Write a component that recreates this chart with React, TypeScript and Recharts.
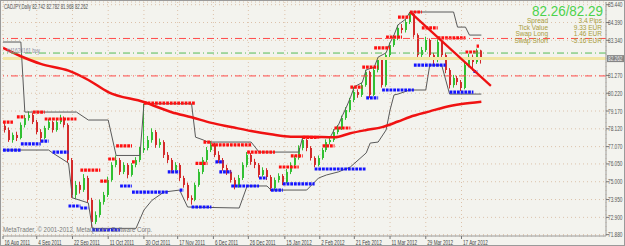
import {
  ComposedChart,
  Bar,
  Line,
  XAxis,
  YAxis,
  CartesianGrid,
  ReferenceLine,
} from 'recharts'

// CADJPY daily bars, 16 Aug 2011 .. 24 Apr 2012
const opens = [
  78.30, 78.05, 77.46, 77.76, 77.58, 78.35, 78.76, 78.94, 78.52, 77.93,
  77.58, 78.17, 78.52, 78.05, 78.52, 78.76, 78.35, 76.28, 74.22, 74.81,
  74.52, 75.22, 73.93, 72.63, 73.04, 73.81, 74.22, 75.10, 75.99, 76.28,
  75.58, 75.99, 75.40, 75.99, 76.28, 76.87, 76.99, 77.46, 77.93, 77.17,
  77.34, 76.58, 76.28, 75.69, 75.99, 75.22, 74.81, 74.04, 73.93, 74.81,
  75.58, 76.28, 76.87, 77.17, 76.58, 76.28, 75.81, 75.58, 75.10, 74.75,
  75.22, 75.99, 76.58, 76.17, 75.99, 75.40, 75.69, 75.28, 74.63, 75.10,
  75.34, 74.99, 75.58, 75.99, 76.40, 76.99, 77.46, 76.99, 76.40, 75.99,
  76.40, 76.87, 77.34, 77.46, 77.93, 78.17, 78.76, 79.23, 79.82, 80.29,
  80.12, 80.70, 81.47, 80.12, 81.59, 82.18, 80.70, 82.47, 83.06, 83.48,
  84.07, 83.95, 84.42, 84.89, 83.65, 82.47, 82.77, 83.36, 82.47, 82.18,
  83.24, 82.47, 81.59, 80.70, 81.12, 80.88, 80.53, 81.88, 82.36, 82.06,
  82.742,
]
const highs = [
  78.45, 78.20, 77.90, 77.95, 78.50, 78.95, 79.15, 79.05, 78.65, 78.10,
  78.30, 78.70, 78.60, 78.65, 78.95, 78.85, 78.45, 76.40, 75.05, 75.00,
  75.45, 75.35, 74.05, 73.25, 73.95, 74.40, 75.30, 76.15, 76.55, 76.40,
  76.15, 76.10, 76.10, 76.45, 77.05, 79.60, 77.70, 78.15, 78.05, 77.55,
  77.45, 76.75, 76.40, 76.15, 76.10, 75.35, 74.95, 74.20, 74.95, 75.75,
  76.45, 77.05, 77.40, 77.30, 76.80, 76.40, 76.00, 75.70, 75.25, 75.40,
  76.15, 76.75, 76.70, 76.35, 76.10, 75.85, 75.80, 75.40, 75.25, 75.50,
  75.45, 75.75, 76.15, 76.55, 77.15, 77.63, 77.55, 77.10, 76.50, 76.55,
  77.00, 77.50, 77.65, 78.10, 78.35, 78.90, 79.40, 79.95, 80.60, 80.45,
  80.85, 81.60, 81.55, 81.75, 82.35, 82.30, 82.60, 83.20, 83.65, 84.25,
  84.30, 84.60, 85.01, 84.95, 83.75, 82.95, 83.55, 83.45, 82.60, 83.40,
  83.35, 82.60, 81.70, 81.30, 81.25, 81.00, 82.05, 82.55, 82.50, 82.85,
  82.782,
]
const lows = [
  77.90, 77.35, 77.30, 77.40, 77.50, 78.20, 78.60, 78.40, 77.80, 77.35,
  77.50, 78.05, 77.90, 77.95, 78.40, 78.20, 76.10, 74.05, 74.00, 74.30,
  74.40, 73.75, 72.35, 72.50, 72.90, 73.65, 74.10, 75.00, 75.85, 75.40,
  75.45, 75.20, 75.30, 75.85, 76.15, 76.70, 76.85, 77.30, 77.00, 77.00,
  76.40, 76.10, 75.50, 75.55, 75.05, 74.65, 73.90, 73.65, 73.85, 74.70,
  75.45, 76.15, 76.75, 76.45, 76.10, 75.65, 75.40, 74.95, 74.55, 74.65,
  75.10, 75.85, 76.00, 75.80, 75.25, 75.30, 75.10, 74.45, 74.50, 74.95,
  74.80, 74.90, 75.45, 75.85, 76.30, 76.85, 76.80, 76.25, 75.85, 75.90,
  76.30, 76.75, 77.20, 77.35, 77.80, 78.05, 78.65, 79.10, 79.70, 79.95,
  80.00, 80.60, 79.95, 80.05, 81.45, 80.55, 80.60, 82.35, 82.95, 83.35,
  83.75, 83.80, 84.30, 83.50, 82.30, 82.35, 82.65, 82.30, 81.90, 82.05,
  82.30, 81.40, 80.50, 80.55, 80.70, 80.35, 80.45, 81.75, 81.55, 81.95,
  81.968,
]
const closes = [
  78.05, 77.46, 77.76, 77.58, 78.35, 78.76, 78.94, 78.52, 77.93, 77.58,
  78.17, 78.52, 78.05, 78.52, 78.76, 78.35, 76.28, 74.22, 74.81, 74.52,
  75.22, 73.93, 72.63, 73.04, 73.81, 74.22, 75.10, 75.99, 76.28, 75.58,
  75.99, 75.40, 75.99, 76.28, 76.87, 76.99, 77.46, 77.93, 77.17, 77.34,
  76.58, 76.28, 75.69, 75.99, 75.22, 74.81, 74.04, 73.93, 74.81, 75.58,
  76.28, 76.87, 77.17, 76.58, 76.28, 75.81, 75.58, 75.10, 74.75, 75.22,
  75.99, 76.58, 76.17, 75.99, 75.40, 75.69, 75.28, 74.63, 75.10, 75.34,
  74.99, 75.58, 75.99, 76.40, 76.99, 77.46, 76.99, 76.40, 75.99, 76.40,
  76.87, 77.34, 77.46, 77.93, 78.17, 78.76, 79.23, 79.82, 80.29, 80.12,
  80.70, 81.47, 80.12, 81.59, 82.18, 80.70, 82.47, 83.06, 83.48, 84.07,
  83.95, 84.42, 84.89, 83.65, 82.47, 82.77, 83.36, 82.47, 82.18, 83.24,
  82.47, 81.59, 80.70, 81.12, 80.88, 80.53, 81.88, 82.36, 82.06, 82.742,
  82.262,
]

// moving average, read at bar index
const maPoints: [number, number][] = [
  [-0.5, 82.89], [4, 82.40], [9, 81.95], [16, 81.55], [21, 81.00], [26, 80.29],
  [35, 79.70], [42, 79.10], [47, 78.80], [52, 78.47], [57, 78.23], [62, 77.99],
  [67, 77.80], [72, 77.66], [78, 77.64], [83, 77.62], [87, 77.86], [91, 78.05],
  [95, 78.22], [99, 78.55], [102, 78.82], [107, 79.15], [111, 79.41], [115, 79.58],
  [120, 79.72],
]

// price channel (thin gray lines)
const upperPoints: [number, number][] = [
  [-0.5, 83.24], [4, 83.24], [5, 79.11], [18, 79.11], [21, 78.64], [26, 78.64],
  [28, 76.55], [34, 76.55], [35, 79.60], [47, 79.60], [48, 77.63], [50, 77.46],
  [51, 77.34], [62, 77.34], [64, 76.75], [74, 76.75], [75, 77.63], [82, 77.65],
  [83, 78.10], [84, 78.35], [85, 78.90], [86, 79.40], [87, 79.95], [88, 80.60],
  [90, 80.85], [91, 81.60], [93, 81.75], [94, 82.35], [96, 82.60], [97, 83.20],
  [98, 83.65], [99, 84.25], [101, 84.60], [102, 85.01], [113, 85.01], [114, 84.12],
  [116, 84.12], [117, 83.65], [120, 83.65],
]
const lowerPoints: [number, number][] = [
  [-0.5, 76.87], [11, 76.87], [12, 76.70], [16, 76.10], [17, 74.05], [21, 73.75],
  [22, 72.25], [33, 72.25], [35, 73.33], [37, 73.90], [40, 74.39], [44, 74.51],
  [46, 73.51], [59, 73.45], [61, 74.75], [66, 74.75], [67, 74.51], [76, 74.51],
  [79, 75.22], [81, 75.40], [84, 75.58], [87, 75.87], [91, 76.70], [92, 77.28],
  [94, 77.34], [96, 78.05], [97, 79.23], [98, 80.12], [99, 80.17], [102, 80.41],
  [106, 80.41], [107, 81.88], [110, 81.88], [112, 80.17], [120, 80.17],
]

// dotted resistance / support runs: [from bar, to bar, price]
const resistanceRuns: [number, number, number][] = [
  [-0.5, 2, 78.52], [3, 5, 78.82], [7, 10, 79.11], [10, 18, 78.70], [19, 24, 75.69],
  [24, 26, 75.04], [26, 28, 76.34], [28, 32, 77.11], [32, 33, 76.17], [35, 48, 79.64],
  [48, 51, 76.08], [50, 52, 77.34], [52, 62, 77.17], [61, 68, 76.75], [69, 74, 75.87],
  [72, 75, 76.52], [75, 79, 77.62], [80, 83, 77.11], [83, 87, 78.17], [87, 90, 80.58],
  [90, 94, 81.76], [93, 97, 82.89], [96, 100, 83.53], [99, 102, 84.71], [102, 105, 85.01],
  [105, 109, 84.07], [109, 116, 83.48], [116, 119, 82.65], [118.8, 119.4, 83.00],
]
const supportRuns: [number, number, number][] = [
  [-0.5, 4, 76.87], [4, 9, 77.23], [9, 11, 77.40], [12, 16, 76.75], [16, 19, 73.57],
  [19, 21, 73.45], [22, 29, 72.16], [29, 32, 74.75], [32, 41, 74.39], [41, 44, 75.58],
  [44, 45, 74.51], [47, 52, 73.51], [53, 55, 76.17], [54, 57, 75.58], [57, 64, 74.75],
  [64, 66, 75.22], [67, 70, 74.51], [70, 78, 74.87], [78, 91, 75.75], [91, 94, 79.94],
  [95, 103, 80.41], [103, 111, 81.88], [112, 118, 80.29], [118, 119, 81.50],
]

const trendLine = [{ i: 102, v: 85.02 }, { i: 122.4, v: 80.65 }]

const levelsRed = [83.45, 81.24]
const levelGreen = 82.59
const bidLevel = 82.262

const yTicks = [71.88, 72.90, 73.95, 75.00, 76.05, 77.07, 78.12, 79.17, 80.22, 81.27, 83.34, 84.39, 85.44]
const xTickIdx = [-0.5, 8, 17, 26, 35, 43.5, 52.5, 61.3, 70.5, 79.3, 88, 97, 106, 115]
const xTickLabels = [
  '16 Aug 2011', '4 Sep 2011', '22 Sep 2011', '11 Oct 2011', '30 Oct 2011', '17 Nov 2011',
  '6 Dec 2011', '26 Dec 2011', '15 Jan 2012', '2 Feb 2012', '21 Feb 2012', '11 Mar 2012',
  '29 Mar 2012', '17 Apr 2012',
]

const infoLabels = ['Spread', 'Tick Value', 'Swap Long', 'Swap Short']
const infoValues = ['3.4 Pips', '9.33 EUR', '1.46 EUR', '-5.16 EUR']

const candles = closes.map((c, i) => ({ i, o: opens[i], h: highs[i], l: lows[i], c }))
const toPts = (pts: [number, number][]) => pts.map(([i, v]) => ({ i, v }))
const toRuns = (runs: [number, number, number][]) =>
  runs.flatMap(([a, b, v]) => [{ i: a, v }, { i: b, v }, { i: b, v: null }])

const FONT = '"Liberation Sans", Arial, sans-serif'
const BULL = '#32c032'
const BEAR = '#d42a2a'

const squeeze = (x: number, s: number) => `translate(${x} 0) scale(${s} 1) translate(${-x} 0)`

// eslint-disable-next-line @typescript-eslint/no-explicit-any
function Candle(props: any) {
  const { x, y, width, height, payload } = props
  if (!payload) return null
  const { o, h, l, c } = payload
  const top = Math.min(y, y + height)
  const bot = Math.max(y, y + height)
  const k = h > l ? (bot - top) / (h - l) : 0
  const yO = top + (h - o) * k
  const yC = top + (h - c) * k
  const color = c >= o ? BULL : BEAR
  const bx = Math.round(x + width / 2 - 1)
  return (
    <g>
      <line x1={bx + 0.5} x2={bx + 0.5} y1={top} y2={bot} stroke={color} strokeWidth={1} />
      <rect x={bx} y={Math.min(yO, yC)} width={2} height={Math.max(1, Math.abs(yC - yO))} fill={color} />
    </g>
  )
}

// eslint-disable-next-line @typescript-eslint/no-explicit-any
function XTick({ x, y, payload }: any) {
  const label = xTickLabels[xTickIdx.indexOf(payload.value)]
  return (
    <text x={x + 1.5} y={y + 4} fontSize={7} fontFamily={FONT} fill="#444" transform={squeeze(x + 1.5, 0.66)}>
      {label}
    </text>
  )
}

// eslint-disable-next-line @typescript-eslint/no-explicit-any
function YTick({ y, payload }: any) {
  return (
    <text x={608} y={y + 2.5} fontSize={7} fontFamily={FONT} fill="#555" transform={squeeze(608, 0.68)}>
      {payload.value.toFixed(3)}
    </text>
  )
}

// eslint-disable-next-line @typescript-eslint/no-explicit-any
function PriceTag({ viewBox }: any) {
  if (!viewBox) return null
  const bx = viewBox.x + viewBox.width + 1
  return (
    <g>
      <rect x={bx} y={viewBox.y - 3.5} width={17} height={7} fill="#858585" />
      <text x={bx + 1} y={viewBox.y + 2.5} fontSize={7} fontFamily={FONT} fill="#eeeeee" transform={squeeze(bx + 1, 0.68)}>
        {bidLevel.toFixed(3)}
      </text>
    </g>
  )
}

export default function App() {
  return (
    <div style={{ position: 'absolute', left: 0, top: 0, width: 625, height: 246, background: '#f3f3ee', overflow: 'hidden' }}>
      <ComposedChart width={625} height={246} data={candles} margin={{ top: 2, right: 0, bottom: 0, left: 3 }}>
        <CartesianGrid stroke="#dcc2aa" strokeDasharray="1 3" />
        <XAxis dataKey="i" type="number" domain={[-0.5, 151.4]} allowDataOverflow ticks={xTickIdx}
          interval={0} tick={<XTick />} tickSize={3} tickLine={{ stroke: '#777' }}
          axisLine={{ stroke: '#9a9a9a' }} height={10} />
        <YAxis orientation="right" type="number" domain={[71.8, 85.6]} allowDataOverflow ticks={yTicks}
          interval={0} tick={<YTick />} tickSize={3} tickLine={{ stroke: '#777' }}
          axisLine={{ stroke: '#9a9a9a' }} width={19} />

        <ReferenceLine y={bidLevel} stroke="#f2e6a6" strokeWidth={3} label={<PriceTag />} />

        <Line data={toPts(upperPoints)} dataKey="v" type="linear" stroke="#5a5a5a" strokeWidth={1}
          dot={false} activeDot={false} isAnimationActive={false} />
        <Line data={toPts(lowerPoints)} dataKey="v" type="linear" stroke="#5a5a5a" strokeWidth={1}
          dot={false} activeDot={false} isAnimationActive={false} />

        <Bar dataKey={(d: { l: number; h: number }) => [d.l, d.h]} barSize={3} shape={Candle}
          isAnimationActive={false} />

        <Line data={toPts(maPoints)} dataKey="v" type="monotone" stroke="#f01212" strokeWidth={2.5}
          dot={false} activeDot={false} isAnimationActive={false} />

        <Line data={toRuns(resistanceRuns)} dataKey="v" type="linear" stroke="#ff1010" strokeWidth={3.2}
          strokeDasharray="2.8 0.9" dot={false} activeDot={false} connectNulls={false} isAnimationActive={false} />
        <Line data={toRuns(supportRuns)} dataKey="v" type="linear" stroke="#1414ff" strokeWidth={3.2}
          strokeDasharray="2.8 0.9" dot={false} activeDot={false} connectNulls={false} isAnimationActive={false} />

        {levelsRed.map(v => (
          <ReferenceLine key={v} y={v} stroke="#ff4a4a" strokeWidth={1} strokeDasharray="7 3 1 3" />
        ))}
        <ReferenceLine y={levelGreen} stroke="#55bb55" strokeWidth={1} strokeDasharray="7 3 1 3" />

        <ReferenceLine segment={[{ x: trendLine[0].i, y: trendLine[0].v }, { x: trendLine[1].i, y: trendLine[1].v }]}
          stroke="#ee1111" strokeWidth={2.2} />
      </ComposedChart>

      <svg width={625} height={246} style={{ position: 'absolute', left: 0, top: 0, pointerEvents: 'none' }}>
        <rect x={0.5} y={0.5} width={624} height={245} fill="none" stroke="#9a9a9a" />
        <text x={4} y={9} fontSize={7} fontFamily={FONT} fill="#505050" textLength={84} lengthAdjust="spacingAndGlyphs">
          CADJPY,Daily  82.742 82.782 81.968 82.262
        </text>
        <text x={7} y={52.5} fontSize={6.5} fontFamily={FONT} fill="#8a8aa0" textLength={33} lengthAdjust="spacingAndGlyphs">
          #41620161 buy
        </text>
        <text x={3} y={232} fontSize={7} fontFamily={FONT} fill="#7a7a7a" textLength={149} lengthAdjust="spacingAndGlyphs">
          MetaTrader, © 2001-2012, MetaQuotes Software Corp.
        </text>
        <text x={603} y={15.5} fontSize={14} fontFamily={FONT} fill="#4cd24c" textAnchor="end"
          textLength={71} lengthAdjust="spacingAndGlyphs">
          82.26/82.29
        </text>
        {infoLabels.map((t, k) => (
          <text key={t} x={548} y={23 + k * 6.7} fontSize={6.5} fontFamily={FONT} fill="#a89c3c" textAnchor="end">{t}</text>
        ))}
        {infoValues.map((t, k) => (
          <text key={t} x={602} y={23 + k * 6.7} fontSize={6.5} fontFamily={FONT} fill="#a89c3c" textAnchor="end">{t}</text>
        ))}
      </svg>
    </div>
  )
}
